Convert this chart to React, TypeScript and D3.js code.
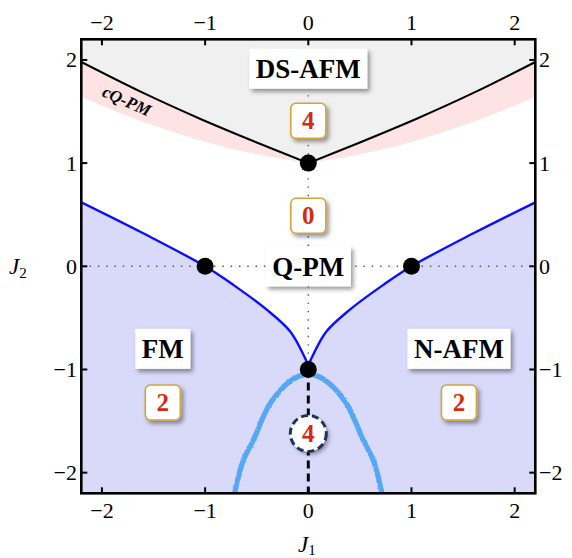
import React from "react";
import * as d3 from "d3";

const W = 572;
const H = 558;
const J1_DOMAIN = [-2.2, 2.2];
const J2_DOMAIN = [-2.2, 2.2];
const TICKS = [-2, -1, 0, 1, 2];

// upper black boundary (DS-AFM | cQ-PM), left and right halves
const dsLeftJ1 = [-2.2, -1.6, -1.05, -0.5, 0];
const dsLeftJ2 = [1.98, 1.68, 1.43, 1.2, 1.0];
const dsRightJ1 = [0, 0.5, 1.05, 1.6, 2.2];
const dsRightJ2 = [1.0, 1.2, 1.43, 1.68, 1.98];
// lower edge of the cQ-PM band
const cqLeftJ1 = [-2.2, -1.6, -1.05, -0.5, 0];
const cqLeftJ2 = [1.64, 1.4, 1.22, 1.085, 1.0];
const cqRightJ1 = [0, 0.5, 1.05, 1.6, 2.2];
const cqRightJ2 = [1.0, 1.085, 1.22, 1.4, 1.64];
// blue boundary, left branch (J1<0) and right branch (J1>0)
const blueLeftJ1 = [-2.2, -1.6, -1.0, -0.727, -0.403, -0.177, -0.048, -0.01, 0];
const blueLeftJ2 = [0.62, 0.32, 0, -0.18, -0.42, -0.63, -0.855, -0.94, -1];
const blueRightJ1 = [0, 0.01, 0.048, 0.177, 0.403, 0.727, 1.0, 1.6, 2.2];
const blueRightJ2 = [-1, -0.94, -0.855, -0.63, -0.42, -0.18, 0, 0.32, 0.62];
// light-blue numerical lines
const lbLeftJ1 = [-0.05, -0.16, -0.37, -0.53, -0.63, -0.71];
const lbLeftJ2 = [-1.05, -1.1, -1.33, -1.68, -1.88, -2.18];
const lbRightJ1 = [0.05, 0.16, 0.37, 0.53, 0.63, 0.71];
const lbRightJ2 = [-1.05, -1.1, -1.33, -1.68, -1.88, -2.18];
// critical points
const critJ1 = [0, -1, 1, 0];
const critJ2 = [1, 0, 0, -1];
// phase labels
const phaseNames = ["DS-AFM", "Q-PM", "FM", "N-AFM"];
const phaseJ1 = [0, 0, -1.41, 1.46];
const phaseJ2 = [1.915, 0, -0.8, -0.8];
// boxed counts
const countLabels = ["4", "0", "2", "2"];
const countJ1 = [0, 0, -1.41, 1.46];
const countJ2 = [1.41, 0.49, -1.32, -1.32];
// circled count on the dashed line
const circLabel = "4";
const circJ1 = 0;
const circJ2 = -1.62;
// band label
const bandLabel = "cQ-PM";
const bandJ1 = -1.76;
const bandJ2 = 1.6;

const FONT = "'Liberation Serif', 'Times New Roman', serif";

function measure(text: string, font: string): number {
  const c = document.createElement("canvas");
  const ctx = c.getContext("2d");
  if (!ctx) return text.length * 15;
  ctx.font = font;
  return ctx.measureText(text).width;
}

export default function App() {
  const L = 81.3, R = 535.3, T = 39.3, B = 493.3;
  const x = d3.scaleLinear().domain(J1_DOMAIN).range([L, R]);
  const y = d3.scaleLinear().domain(J2_DOMAIN).range([B, T]);

  const zip = (a: number[], b: number[]) => a.map((v, i) => [v, b[i]] as [number, number]);
  const line = d3
    .line<[number, number]>()
    .x((d) => x(d[0]))
    .y((d) => y(d[1]))
    .curve(d3.curveCatmullRom.alpha(0.5));
  const lineStr = (pts: [number, number][]) => line(pts) || "";
  const cont = (pts: [number, number][]) => "L" + lineStr(pts).slice(1);

  const dsL = zip(dsLeftJ1, dsLeftJ2);
  const dsR = zip(dsRightJ1, dsRightJ2);
  const cqL = zip(cqLeftJ1, cqLeftJ2);
  const cqR = zip(cqRightJ1, cqRightJ2);
  const bl = zip(blueLeftJ1, blueLeftJ2);
  const br = zip(blueRightJ1, blueRightJ2);

  const dsPath = lineStr(dsL) + cont(dsR);
  const grayPath = dsPath + `L${x(2.2)},${y(2.3)}L${x(-2.2)},${y(2.3)}Z`;
  const pinkPath =
    dsPath + cont([...cqR].reverse()) + cont([...cqL].reverse()) + "Z";
  const blueFull = lineStr(bl) + cont(br);
  const lavPath = blueFull + `L${x(2.2)},${y(-2.3)}L${x(-2.2)},${y(-2.3)}Z`;

  const phaseFont = `bold 27px ${FONT}`;
  const tickFont = 22;
  const fmt = (v: number) => (v < 0 ? "\u2212" + Math.abs(v) : String(v));

  return (
    <svg
      width={W}
      height={H}
      style={{ position: "absolute", left: 0, top: 0, background: "#fff" }}
      fontFamily={FONT}
    >
      <defs>
        <filter id="sh" x="-30%" y="-30%" width="170%" height="180%">
          <feDropShadow dx="2.5" dy="3" stdDeviation="2" floodColor="#000" floodOpacity="0.4" />
        </filter>
        <filter id="rough" x="-20%" y="-5%" width="140%" height="110%">
          <feTurbulence type="fractalNoise" baseFrequency="2.2" numOctaves="1" seed="5" result="n" />
          <feDisplacementMap in="SourceGraphic" in2="n" scale="2.6" xChannelSelector="R" yChannelSelector="G" />
        </filter>
        <clipPath id="frame">
          <rect x={L} y={T} width={R - L} height={B - T} />
        </clipPath>
      </defs>

      <g clipPath="url(#frame)">
        <rect x={L} y={T} width={R - L} height={B - T} fill="#fff" />
        <path d={grayPath} fill="#f0f0f0" />
        <path d={pinkPath} fill="#fde3e3" />
        <path d={lavPath} fill="#d9d9fa" />

        {/* dotted guide lines */}
        <line x1={x(-2.2)} x2={x(2.2)} y1={y(0)} y2={y(0)} stroke="#555" strokeWidth={1.4} strokeDasharray="1.4 6.9" />
        <line x1={x(0)} x2={x(0)} y1={y(1.9)} y2={y(-1)} stroke="#555" strokeWidth={1.4} strokeDasharray="1.4 6.9" />

        <path d={dsPath} fill="none" stroke="#000" strokeWidth={2} />
        <path d={lineStr(bl)} fill="none" stroke="#0a10ff" strokeWidth={2.4} />
        <path d={lineStr(br)} fill="none" stroke="#0a10ff" strokeWidth={2.4} />

        <g filter="url(#rough)">
          <path d={lineStr(zip(lbLeftJ1, lbLeftJ2))} fill="none" stroke="#55a8f5" strokeWidth={5.2} strokeLinecap="round" />
          <path d={lineStr(zip(lbRightJ1, lbRightJ2))} fill="none" stroke="#55a8f5" strokeWidth={5.2} strokeLinecap="round" />
        </g>

        <line x1={x(0)} x2={x(0)} y1={y(-1)} y2={y(-2.2)} stroke="#000" strokeWidth={3} strokeDasharray="8 5" />
      </g>

      {critJ1.map((v, i) => (
        <circle key={"c" + i} cx={x(v)} cy={y(critJ2[i])} r={8.5} fill="#000" />
      ))}

      <text
        transform={`translate(${x(bandJ1)},${y(bandJ2)}) rotate(24)`}
        textAnchor="middle"
        dominantBaseline="central"
        fontSize={17}
        fontWeight="bold"
        fontStyle="italic"
        fill="#000"
      >
        {bandLabel}
      </text>

      {phaseNames.map((name, i) => {
        const tw = measure(name, phaseFont);
        const bw = tw + 13;
        const bh = 40;
        const cx = x(phaseJ1[i]);
        const cy = y(phaseJ2[i]);
        return (
          <g key={"p" + i}>
            <rect x={cx - bw / 2} y={cy - bh / 2} width={bw} height={bh} fill="#fff" filter="url(#sh)" />
            <text x={cx} y={cy + 9.5} textAnchor="middle" fontSize={27} fontWeight="bold" fill="#000">
              {name}
            </text>
          </g>
        );
      })}

      {countLabels.map((lab, i) => {
        const cx = x(countJ1[i]);
        const cy = y(countJ2[i]);
        const s = 35;
        return (
          <g key={"n" + i}>
            <rect x={cx - s / 2} y={cy - s / 2} width={s} height={s} rx={5} fill="#fff" stroke="#d2a43c" strokeWidth={1.6} filter="url(#sh)" />
            <text x={cx} y={cy + 8.5} textAnchor="middle" fontSize={25} fontWeight="bold" fill="#d42a10">
              {lab}
            </text>
          </g>
        );
      })}

      <g>
        <circle cx={x(circJ1)} cy={y(circJ2)} r={18} fill="#fff" filter="url(#sh)" />
        <circle cx={x(circJ1)} cy={y(circJ2)} r={18} fill="#fff" stroke="#1b355e" strokeWidth={3} strokeDasharray="7 4" />
        <text x={x(circJ1)} y={y(circJ2) + 8.5} textAnchor="middle" fontSize={25} fontWeight="bold" fill="#d42a10">
          {circLabel}
        </text>
      </g>

      {/* frame */}
      <rect x={L} y={T} width={R - L} height={B - T} fill="none" stroke="#000" strokeWidth={2.6} />

      {/* ticks */}
      {TICKS.map((t) => (
        <g key={"t" + t}>
          <line x1={x(t)} x2={x(t)} y1={B} y2={B - 6} stroke="#000" strokeWidth={2} />
          <line x1={x(t)} x2={x(t)} y1={T} y2={T + 6} stroke="#000" strokeWidth={2} />
          <line x1={L} x2={L + 6} y1={y(t)} y2={y(t)} stroke="#000" strokeWidth={2} />
          <line x1={R} x2={R - 6} y1={y(t)} y2={y(t)} stroke="#000" strokeWidth={2} />
          <text x={x(t)} y={518} textAnchor="middle" fontSize={tickFont}>{fmt(t)}</text>
          <text x={x(t)} y={30} textAnchor="middle" fontSize={tickFont}>{fmt(t)}</text>
          <text x={77} y={y(t) + 7.5} textAnchor="end" fontSize={tickFont}>{fmt(t)}</text>
          <text x={539} y={y(t) + 7.5} textAnchor="start" fontSize={tickFont}>{fmt(t)}</text>
        </g>
      ))}

      <text x={9} y={y(0) + 8} fontSize={23} fontStyle="italic">
        J<tspan fontStyle="normal" fontSize={15} dy={4}>2</tspan>
      </text>
      <text x={298} y={552} fontSize={23} fontStyle="italic">
        J<tspan fontStyle="normal" fontSize={15} dy={3}>1</tspan>
      </text>
    </svg>
  );
}
